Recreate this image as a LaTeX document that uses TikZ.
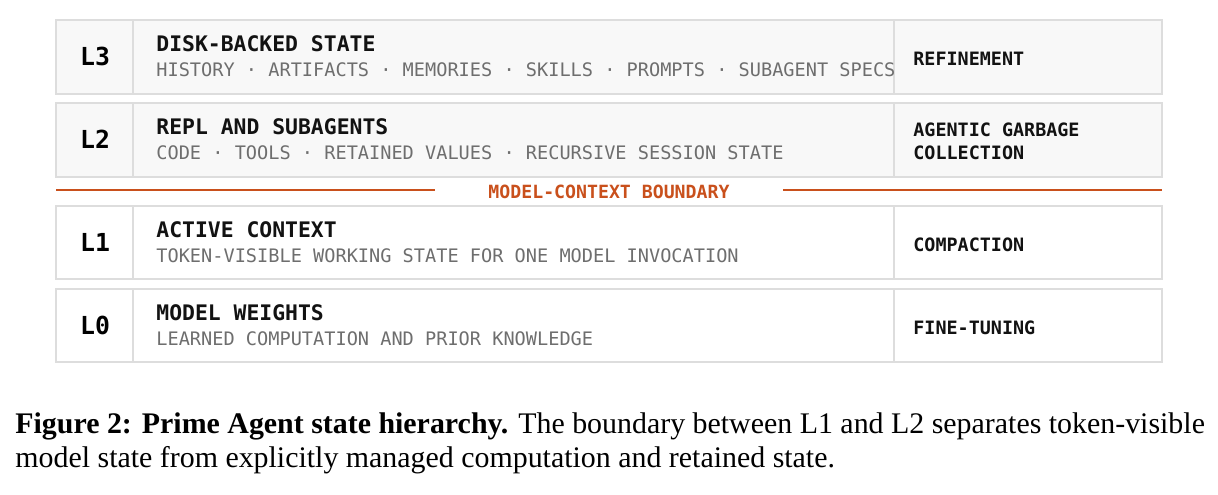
\documentclass[tikz,border=0pt]{standalone}
\usepackage{fontspec}
\setmainfont{Liberation Serif}
\setmonofont{DejaVu Sans Mono}
\definecolor{rule}{HTML}{DDDDDD}
\definecolor{shade}{HTML}{F8F8F8}
\definecolor{subgray}{HTML}{6E6E6E}
\definecolor{bound}{HTML}{C9501C}
\tikzset{
  rowbox/.style={draw=rule,line width=0.8pt},
  lvl/.style={anchor=base,inner sep=0pt,font=\ttfamily\bfseries\fontsize{12.4}{14}\selectfont},
  ttl/.style={anchor=base west,inner sep=0pt,text=black!93,font=\ttfamily\bfseries\fontsize{10.7}{12}\selectfont},
  sub/.style={anchor=base west,inner sep=0pt,text=subgray,font=\ttfamily\fontsize{9.3}{11}\selectfont},
  mech/.style={anchor=base west,inner sep=0pt,text=black!93,align=left,font=\ttfamily\bfseries\fontsize{9.2}{11.5}\selectfont}
}
\begin{document}
\begin{tikzpicture}[x=0.5pt,y=-0.5pt]
\useasboundingbox (0,0) rectangle (1218,494);

% L3
\draw[rowbox,fill=shade] (56,20) rectangle (1162,94);
\draw[rowbox] (133,20) -- (133,94) (894,20) -- (894,94);
\node[lvl] (l3) at (95,65) {L3};
\node[ttl] (t3) at (156,51) {DISK-BACKED STATE};
\node[sub] (s3) at (156,76) {HISTORY · ARTIFACTS · MEMORIES · SKILLS · PROMPTS · SUBAGENT SPECS};
\node[mech] (m3) at (913,65) {REFINEMENT};

% L2
\draw[rowbox,fill=shade] (56,103) rectangle (1162,177);
\draw[rowbox] (133,103) -- (133,177) (894,103) -- (894,177);
\node[lvl] (l2) at (95,148) {L2};
\node[ttl] (t2) at (156,134) {REPL AND SUBAGENTS};
\node[sub] (s2) at (156,159) {CODE · TOOLS · RETAINED VALUES · RECURSIVE SESSION STATE};
\node[mech] (m2) at (913,159) {AGENTIC GARBAGE\\COLLECTION};

% boundary
\coordinate (bl) at (56,190);
\coordinate (br) at (1162,190);
\node[inner sep=0pt,minimum width=174pt,text=bound,font=\ttfamily\bfseries\fontsize{9.1}{11}\selectfont] (bnd) at (609,192) {MODEL-CONTEXT BOUNDARY};
\draw[bound,line width=1pt] (bl) -- (bl -| bnd.west);
\draw[bound,line width=1pt] (br -| bnd.east) -- (br);

% L1
\draw[rowbox,fill=white] (56,206) rectangle (1162,279);
\draw[rowbox] (133,206) -- (133,279) (894,206) -- (894,279);
\node[lvl] (l1) at (95,251) {L1};
\node[ttl] (t1) at (156,237) {ACTIVE CONTEXT};
\node[sub] (s1) at (156,262) {TOKEN-VISIBLE WORKING STATE FOR ONE MODEL INVOCATION};
\node[mech] (m1) at (913,251) {COMPACTION};

% L0
\draw[rowbox,fill=white] (56,289) rectangle (1162,362);
\draw[rowbox] (133,289) -- (133,362) (894,289) -- (894,362);
\node[lvl] (l0) at (95,334) {L0};
\node[ttl] (t0) at (156,320) {MODEL WEIGHTS};
\node[sub] (s0) at (156,345) {LEARNED COMPUTATION AND PRIOR KNOWLEDGE};
\node[mech] (m0) at (913,334) {FINE-TUNING};

% caption
\node[anchor=base west,inner sep=0pt,align=left,font=\fontsize{14.95}{17}\selectfont] (cap) at (15,467)
  {\textbf{Figure 2: Prime Agent state hierarchy.} The boundary between L1 and L2 separates token-visible\\
   model state from explicitly managed computation and retained state.};
\end{tikzpicture}
\end{document}
